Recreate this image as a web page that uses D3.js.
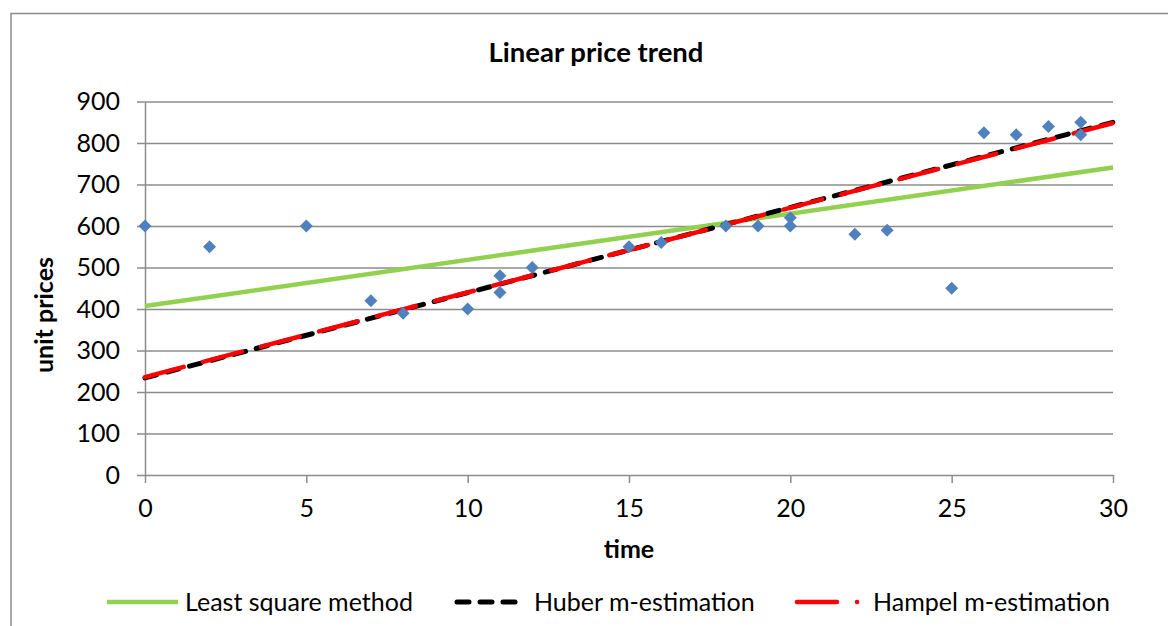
<!DOCTYPE html>
<html><head><meta charset="utf-8">
<script src="https://cdn.jsdelivr.net/npm/d3@7"></script>
<style>
body{margin:0;background:#fff}
svg{display:block}
text{font-family:Lato,"Liberation Sans",sans-serif;fill:#000}
</style>
</head><body>
<svg id="c" width="1168" height="626"></svg>
<script>
// ---- data ----
const timeValues = [0,2,5,7,8,10,11,11,12,15,16,18,19,20,20,22,23,25,26,27,28,29,29];
const unitPrices = [600,550,600,420,390,400,480,440,500,550,560,600,600,620,600,580,590,450,825,820,840,850,820];
const seriesNames = ["Least square method","Huber m-estimation","Hampel m-estimation"];
const trendStartValues = [407,234,236];   // value at time 0
const trendEndValues = [741,850,848];     // value at time 30
const trendTimes = [0,30];
const xTickValues = [0,5,10,15,20,25,30];
const yTickValues = [0,100,200,300,400,500,600,700,800,900];
const chartTitle = "Linear price trend";
const xTitle = "time";
const yTitle = "unit prices";

// ---- layout ----
const svg = d3.select("#c");
const L = 145, R = 1113, T = 101.5, B = 475;
const x = d3.scaleLinear().domain([0,30]).range([L,R]);
const y = d3.scaleLinear().domain([0,900]).range([B,T]);
const gridColor = "#8c8c8c";
const FS = 25;

// chart frame
svg.append("rect").attr("x",11).attr("y",13.5).attr("width",1200).attr("height",700)
  .attr("fill","none").attr("stroke","#8a8a8a").attr("stroke-width",1.5);

// gridlines
svg.append("g").attr("transform",`translate(${L},0)`)
  .call(d3.axisLeft(y).tickValues(yTickValues.filter(v=>v>0)).tickSize(-(R-L)).tickFormat(""))
  .call(g=>{g.select(".domain").remove();g.selectAll("line").attr("stroke",gridColor).attr("stroke-width",1.5);});

// y axis
const ya = svg.append("g").attr("transform",`translate(${L},0)`)
  .call(d3.axisLeft(y).tickValues(yTickValues).tickSize(8).tickSizeOuter(0).tickPadding(17));
ya.select(".domain").attr("stroke",gridColor).attr("stroke-width",1.5);
ya.selectAll("line").attr("stroke",gridColor).attr("stroke-width",1.5);
ya.selectAll("text").attr("font-size",FS).attr("font-family","Lato,'Liberation Sans',sans-serif");

// x axis
const xa = svg.append("g").attr("transform",`translate(0,${B})`)
  .call(d3.axisBottom(x).tickValues(xTickValues).tickSize(8).tickSizeOuter(0).tickPadding(16));
xa.select(".domain").attr("stroke",gridColor).attr("stroke-width",1.5);
xa.selectAll("line").attr("stroke",gridColor).attr("stroke-width",1.5);
xa.selectAll("text").attr("font-size",FS).attr("font-family","Lato,'Liberation Sans',sans-serif");

// trend lines
const colors = ["#92d050","#000000","#ff0000"];
const widths = [4.5,5,4.5];
const dashes = [null,"12,11","40,20"];
const line = d3.line().x(d=>x(d[0])).y(d=>y(d[1]));
seriesNames.forEach((n,i)=>{
  const pts = trendTimes.map((t,j)=>[t, j===0?trendStartValues[i]:trendEndValues[i]]);
  svg.append("path").datum(pts).attr("d",line).attr("fill","none")
    .attr("stroke",colors[i]).attr("stroke-width",widths[i])
    .attr("stroke-linecap",dashes[i]?"round":"butt")
    .attr("stroke-dasharray",dashes[i]);
});

// points
svg.append("g").selectAll("path").data(timeValues.map((t,i)=>[t,unitPrices[i]])).join("path")
  .attr("d","M0,-6.5L6.5,0L0,6.5L-6.5,0Z")
  .attr("transform",d=>`translate(${x(d[0])},${y(d[1])})`)
  .attr("fill","#4f81bd");

// titles
svg.append("text").attr("x",596).attr("y",62).attr("text-anchor","middle")
  .attr("font-size",27.5).attr("font-weight","bold").text(chartTitle);
svg.append("text").attr("x",629).attr("y",558).attr("text-anchor","middle")
  .attr("font-size",FS).attr("font-weight","bold").text(xTitle);
svg.append("text").attr("transform","translate(53,315) rotate(-90)").attr("text-anchor","middle")
  .attr("font-size",FS).attr("font-weight","bold").text(yTitle);

// legend
const legX = [107,455,795], legTextX = [185,534,873], legY = 602;
const legDash = [null,"12,11","40,20,0.1,20"];
seriesNames.forEach((n,i)=>{
  svg.append("line").attr("x1",legX[i]+(i===0?0:2)).attr("x2",legX[i]+(i===0?71:i===1?63:72)).attr("y1",legY).attr("y2",legY)
    .attr("stroke",colors[i]).attr("stroke-width",widths[i])
    .attr("stroke-linecap",legDash[i]?"round":"butt").attr("stroke-dasharray",legDash[i]);
  svg.append("text").attr("x",legTextX[i]).attr("y",legY+9).attr("font-size",FS).text(n);
});
</script>
</body></html>
